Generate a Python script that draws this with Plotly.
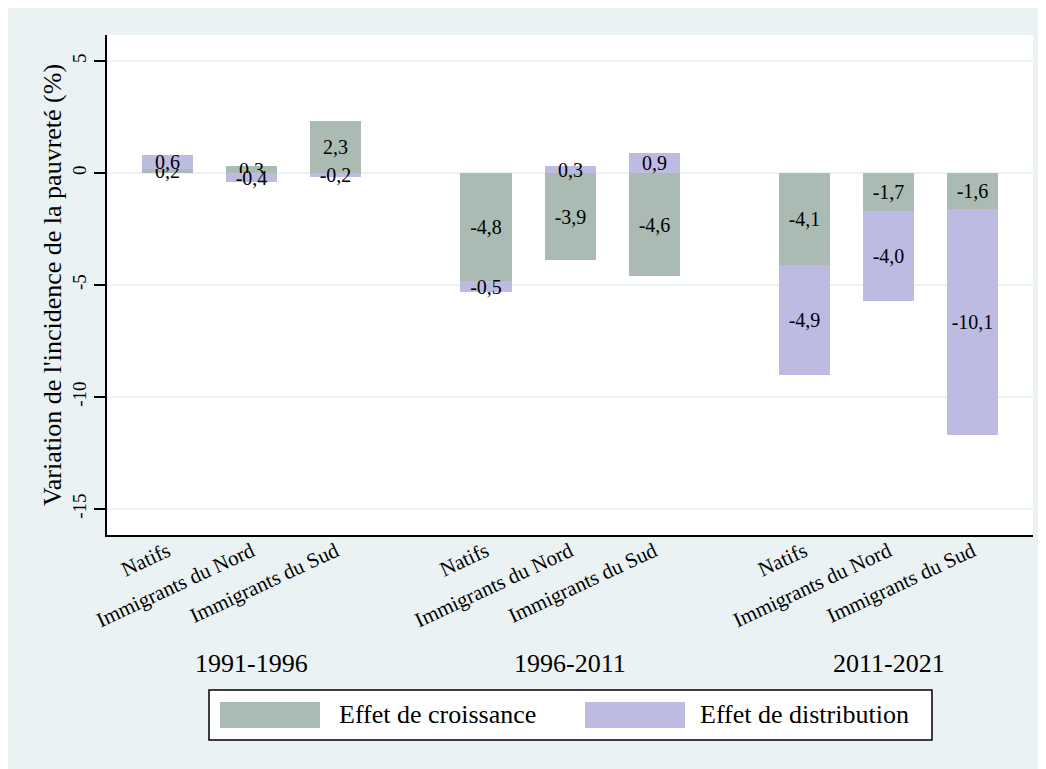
import plotly.graph_objects as go

# ---------------- data ----------------
periods = ["1991-1996", "1996-2011", "2011-2021"]
groups = ["Natifs", "Immigrants du Nord", "Immigrants du Sud"]
croissance = [0.2, 0.3, 2.3, -4.8, -3.9, -4.6, -4.1, -1.7, -1.6]
distribution = [0.6, -0.4, -0.2, -0.5, 0.3, 0.9, -4.9, -4.0, -10.1]
y_ticks = [-15, -10, -5, 0, 5]
series_names = ["Effet de croissance", "Effet de distribution"]

# ---------------- style ----------------
FONT = "Liberation Serif"
GREEN = "#a9bbb3"
LAV = "#bebbe3"
BG = "#eaf2f3"
GAP = 0.786
BAR_W = 0.607

xpos, ticktext, centers = [], [], []
for g, p in enumerate(periods):
    base = g * (len(groups) + GAP)
    for i, name in enumerate(groups):
        xpos.append(base + i)
        ticktext.append(name)
    centers.append(base + (len(groups) - 1) / 2)


def fmt(v):
    return f"{v:.1f}".replace(".", ",")


fig = go.Figure()
for vals, color, name in [(croissance, GREEN, series_names[0]),
                          (distribution, LAV, series_names[1])]:
    fig.add_trace(go.Bar(
        x=xpos, y=vals, width=BAR_W, name=name,
        marker=dict(color=color, line=dict(width=0)),
        text=[fmt(v) for v in vals], textposition="inside",
        insidetextanchor="middle", textangle=0,
        textfont=dict(family=FONT, size=20, color="black"),
        showlegend=False,
    ))

# plot geometry in screenshot px (page body adds an 8px offset)
OFF = 8
L, R, T, B = 107, 1033, 35, 535
W, H = R - L, B - T
FW, FH = 1046, 769


def px_x(px):
    return (px - L) / W


def px_y(py):
    return (B - py) / H


annotations = []
for c, p in zip(centers, periods):
    annotations.append(dict(x=c, xref="x", y=px_y(663), yref="paper",
                            text=p, showarrow=False,
                            font=dict(family=FONT, size=26, color="black"),
                            xanchor="center", yanchor="middle"))

shapes = [
    # legend box
    dict(type="rect", xref="paper", yref="paper", x0=px_x(209), x1=px_x(932),
         y0=px_y(740), y1=px_y(690), fillcolor="white",
         line=dict(color="black", width=1.5), layer="above"),
    dict(type="rect", xref="paper", yref="paper", x0=px_x(220), x1=px_x(320),
         y0=px_y(728), y1=px_y(702), fillcolor=GREEN, line=dict(width=0), layer="above"),
    dict(type="rect", xref="paper", yref="paper", x0=px_x(585), x1=px_x(685),
         y0=px_y(728), y1=px_y(702), fillcolor=LAV, line=dict(width=0), layer="above"),
]
for xx, name in [(337, series_names[0]), (698, series_names[1])]:
    annotations.append(dict(x=px_x(xx), xref="paper", y=px_y(715), yref="paper",
                            text=name, showarrow=False,
                            font=dict(family=FONT, size=26, color="black"),
                            xanchor="left", yanchor="middle"))

fig.update_layout(
    width=FW, height=FH,
    margin=dict(l=L - OFF, r=FW - (R - OFF), t=T - OFF, b=FH - (B - OFF),
                autoexpand=False),
    paper_bgcolor=BG, plot_bgcolor="white",
    barmode="relative", bargap=0,
    uniformtext=dict(minsize=20, mode="show"),
    font=dict(family=FONT, color="black"),
    shapes=shapes, annotations=annotations,
    xaxis=dict(range=[-0.72, 10.29], tickmode="array", tickvals=xpos,
               ticktext=ticktext, tickangle=-25, ticks="",
               ticklabelstandoff=-6,
               tickfont=dict(family=FONT, size=21, color="black"),
               showgrid=False, zeroline=False, showline=True,
               linecolor="black", linewidth=2, automargin=False),
    yaxis=dict(range=[-16.16, 6.16], tickmode="array", tickvals=y_ticks,
               ticktext=[str(v) for v in y_ticks], tickangle=-90,
               ticks="outside", ticklen=11, tickwidth=1.5, tickcolor="black",
               tickfont=dict(family=FONT, size=19, color="black"),
               showgrid=True, gridcolor=BG, gridwidth=2, zeroline=False,
               showline=True, linecolor="black", linewidth=2, automargin=False,
               title=dict(text="Variation de l'incidence de la pauvreté (%)",
                          font=dict(family=FONT, size=26, color="black"),
                          standoff=0)),
)

fig.write_html("out.html")
